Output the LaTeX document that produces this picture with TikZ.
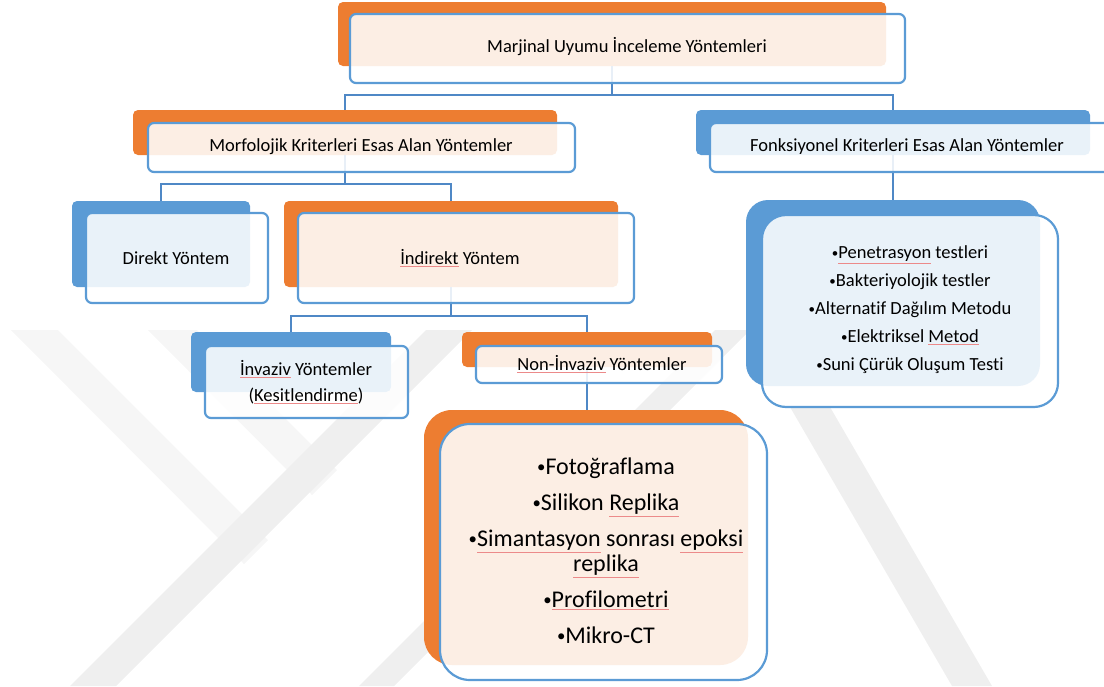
\documentclass[tikz,border=0pt]{standalone}
\usepackage{fontspec}
\usepackage{graphicx}
\setmainfont[Ligatures=NoCommon]{Carlito}
\definecolor{orgC}{HTML}{ED7D31}
\definecolor{bluC}{HTML}{5B9BD5}
\definecolor{connC}{HTML}{4F88C6}
\definecolor{sqC}{HTML}{EC8A8A}
\definecolor{wmA}{HTML}{EFEFEF}
\definecolor{wmB}{HTML}{F6F6F6}
\newcommand\sqw[1]{{\color{sqC}\underline{\color{black}#1}}}
\newcommand\bul{\raisebox{0.1em}{\scalebox{0.7}{•}}}
\begin{document}
\begin{tikzpicture}[x=1pt,y=-1pt,
  backO/.style={fill=orgC, draw=none, rounded corners=5pt, inner sep=0pt, outer sep=0pt},
  backB/.style={fill=bluC, draw=none, rounded corners=5pt, inner sep=0pt, outer sep=0pt},
  front/.style={draw=bluC, line width=2.2pt, fill=white, fill opacity=0.87, draw opacity=1, rounded corners=6pt, inner sep=0pt, outer sep=0pt},
  conn/.style={draw=connC, line width=2.6pt},
  wmk/.style={fill=wmA, draw=none},
  wmk2/.style={fill=wmB, draw=none},
  lbl/.style={font=\fontsize{18.5}{26}\selectfont, text=black, align=center, inner sep=0pt},
  big/.style={font=\fontsize{24}{36}\selectfont, text=black, align=center, inner sep=0pt}]
\useasboundingbox (0,0) rectangle (1104,686);
\clip (0,0) rectangle (1104,686);
% faint watermark
\fill[wmk2] (11,330) -- (58,330) -- (268,540) -- (244,564) -- cycle;
\fill[wmk2] (148,330) -- (197,330) -- (337,470) -- (312,495) -- cycle;
\fill[wmk] (426,330) -- (472,330) -- (116,686) -- (70,686) -- cycle;
\fill[wmk] (715,330) -- (750,330) -- (394,686) -- (359,686) -- cycle;
\fill[wmk] (790,407) -- (830,407) -- (992,686) -- (952,686) -- cycle;
% back shapes
\node[backO, minimum width=548pt, minimum height=64pt] (b1) at (612,34) {};
\node[backO, minimum width=424pt, minimum height=45pt] (b2) at (345,132.5) {};
\node[backB, minimum width=394pt, minimum height=45pt] (b3) at (893,132.5) {};
\node[backB, minimum width=178pt, minimum height=86pt] (b4) at (161,244) {};
\node[backO, minimum width=334pt, minimum height=86pt] (b5) at (451,244) {};
\node[backB, minimum width=294pt, minimum height=186pt, rounded corners=22pt] (b6) at (893,293) {};
\node[backB, minimum width=200pt, minimum height=60pt] (b7) at (291,362) {};
\node[backO, minimum width=250pt, minimum height=35pt] (b8) at (587,349.5) {};
\node[backO, minimum width=324pt, minimum height=255pt, rounded corners=28pt] (b9) at (586,537.5) {};
% connectors
\coordinate (e1) at (0,95);
\coordinate (e2) at (0,184);
\coordinate (e3) at (0,316);
\draw[conn] (b1.south) -- (b1.south |- e1) -| (b2.north);
\draw[conn] (b1.south) -- (b1.south |- e1) -| (b3.north);
\draw[conn] (b2.south) -- (b2.south |- e2) -| (b4.north);
\draw[conn] (b2.south) -- (b2.south |- e2) -| (b5.north);
\draw[conn] (b3.south) -- (b6.north);
\draw[conn] (b5.south) -- (b5.south |- e3) -| (b7.north);
\draw[conn] (b5.south) -- (b5.south |- e3) -| (b8.north);
\draw[conn] (b8.south) -- (b8.south |- b9.north);
% front shapes
\node[front, minimum width=555pt, minimum height=69pt] (f1) at (627.5,48.5) {};
\node[front, minimum width=427pt, minimum height=49pt] (f2) at (361.5,147.5) {};
\node[front, minimum width=405pt, minimum height=49pt] (f3) at (912.5,147.5) {};
\node[front, minimum width=182pt, minimum height=90pt] (f4) at (177,258) {};
\node[front, minimum width=336pt, minimum height=90pt] (f5) at (466,258) {};
\node[front, minimum width=296pt, minimum height=192pt, rounded corners=24pt] (f6) at (910,311) {};
\node[front, minimum width=203pt, minimum height=72pt] (f7) at (306.5,382) {};
\node[front, minimum width=246pt, minimum height=37pt] (f8) at (599,364.5) {};
\node[front, minimum width=327pt, minimum height=256pt, rounded corners=30pt] (f9) at (603.5,552) {};
% texts
\node[lbl] (t1) at (627,47) {Marjinal Uyumu İnceleme Yöntemleri};
\node[lbl] (t2) at (361,147) {Morfolojik Kriterleri Esas Alan Yöntemler};
\node[lbl] (t3) at (907,147) {Fonksiyonel Kriterleri Esas Alan Yöntemler};
\node[lbl] (t4) at (176,258) {Direkt Yöntem};
\node[lbl] (t5) at (460,258) {\sqw{İndirekt} Yöntem};
\node[lbl, font=\fontsize{18.5}{28}\selectfont] (t6) at (910,310) {\bul\sqw{Penetrasyon} testleri\\\bul Bakteriyolojik testler\\\bul Alternatif Dağılım Metodu\\\bul Elektriksel \sqw{Metod}\\\bul Suni Çürük Oluşum Testi};
\node[lbl] (t7) at (306,382) {\sqw{İnvaziv} Yöntemler\\(\sqw{Kesitlendirme})};
\node[lbl] (t8) at (602,364) {\sqw{Non-İnvaziv} Yöntemler};
\node[big] (t9) at (606,551) {\bul Fotoğraflama\\\bul Silikon \sqw{Replika}\\\bul\sqw{Simantasyon} sonrası \sqw{epoksi}\\[-11pt]\sqw{replika}\\\bul\sqw{Profilometri}\\\bul Mikro-CT};
\end{tikzpicture}
\end{document}
